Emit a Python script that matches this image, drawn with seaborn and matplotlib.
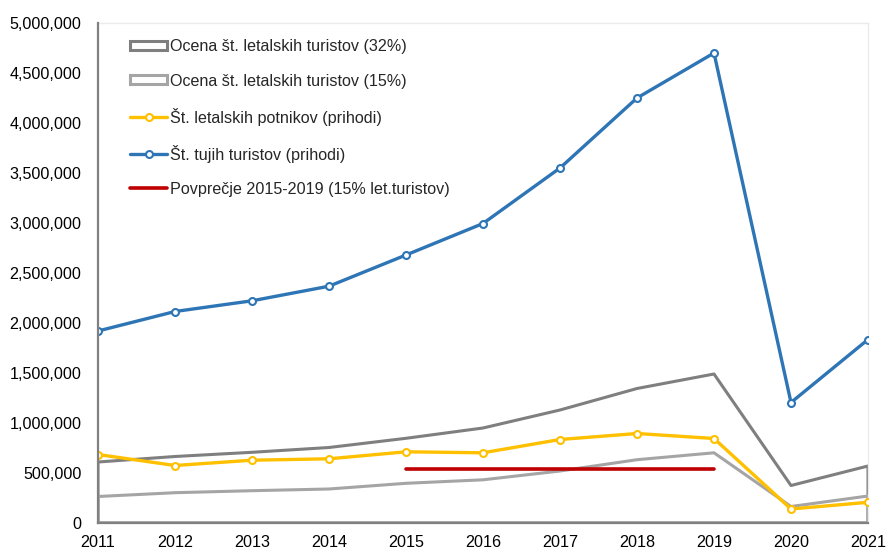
import matplotlib
matplotlib.use("Agg")
import matplotlib.pyplot as plt
from matplotlib.patches import Patch
from matplotlib.lines import Line2D
from matplotlib.ticker import FuncFormatter, MultipleLocator
import seaborn as sns
import pandas as pd

# Yearly data
years = [2011, 2012, 2013, 2014, 2015, 2016, 2017, 2018, 2019, 2020, 2021]
tuji_turisti = [1920000, 2115000, 2222000, 2368000, 2680000, 2995000, 3550000,
                4250000, 4700000, 1205000, 1835000]
letalski_32 = [610000, 665000, 707000, 755000, 847000, 950000, 1130000,
               1345000, 1490000, 375000, 570000]
letalski_15 = [265000, 303000, 323000, 340000, 397000, 432000, 520000,
               633000, 702000, 165000, 270000]
letalski_potniki = [685000, 575000, 628000, 642000, 712000, 702000, 835000,
                    895000, 845000, 140000, 207000]
povprecje_years = [2015, 2019]
povprecje_val = [540000, 540000]

labels = [
    "Ocena št. letalskih turistov (32%)",
    "Ocena št. letalskih turistov (15%)",
    "Št. letalskih potnikov (prihodi)",
    "Št. tujih turistov (prihodi)",
    "Povprečje 2015-2019 (15% let.turistov)",
]

c_dark = "#7F7F7F"
c_light = "#A5A5A5"
c_yellow = "#FFC000"
c_blue = "#2E75B6"
c_red = "#C00000"

sns.set_style("white")
plt.rcParams["font.family"] = ["Liberation Sans", "DejaVu Sans"]
plt.rcParams["font.size"] = 11.6

df = pd.DataFrame({
    "year": years,
    "tuji": tuji_turisti,
    "l32": letalski_32,
    "l15": letalski_15,
    "potniki": letalski_potniki,
})
df_avg = pd.DataFrame({"year": povprecje_years, "val": povprecje_val})

fig = plt.figure(figsize=(8.87, 5.5), dpi=100)
ax = fig.add_axes([98 / 887, 27 / 550, 770 / 887, 500 / 550])

# Estimated air tourists drawn as unfilled area outlines
ax.fill_between(df["year"], df["l32"], 0, facecolor="none",
                edgecolor=c_dark, linewidth=2.2, zorder=2)
ax.fill_between(df["year"], df["l15"], 0, facecolor="none",
                edgecolor=c_light, linewidth=2.2, zorder=2)

marker_kw = dict(marker="o", markersize=5, markerfacecolor="white",
                 markeredgewidth=1.5)
sns.lineplot(data=df, x="year", y="potniki", ax=ax, color=c_yellow,
             linewidth=2.4, markeredgecolor=c_yellow, zorder=3, **marker_kw)
sns.lineplot(data=df, x="year", y="tuji", ax=ax, color=c_blue,
             linewidth=2.4, markeredgecolor=c_blue, zorder=3, **marker_kw)
sns.lineplot(data=df_avg, x="year", y="val", ax=ax, color=c_red,
             linewidth=2.6, zorder=4)

ax.set_xlim(2011, 2021)
ax.set_ylim(0, 5000000)
ax.set_xticks(years)
ax.yaxis.set_major_locator(MultipleLocator(500000))
ax.yaxis.set_major_formatter(FuncFormatter(lambda v, p: f"{int(v):,}"))
ax.set_xlabel("")
ax.set_ylabel("")
ax.tick_params(axis="both", length=0, colors="black", labelsize=11.6)
ax.tick_params(axis="y", pad=12)
ax.tick_params(axis="x", pad=8.5)

for side in ["left", "bottom"]:
    ax.spines[side].set_color("#808080")
    ax.spines[side].set_linewidth(1.6)
    ax.spines[side].set_zorder(5)
for side in ["top", "right"]:
    ax.spines[side].set_visible(True)
    ax.spines[side].set_color("#EBEBEB")
    ax.spines[side].set_linewidth(1.0)

handles = [
    Patch(facecolor="none", edgecolor=c_dark, linewidth=2.2),
    Patch(facecolor="none", edgecolor=c_light, linewidth=2.2),
    Line2D([0], [0], color=c_yellow, linewidth=2.4, marker="o", markersize=5,
           markerfacecolor="white", markeredgecolor=c_yellow, markeredgewidth=1.5),
    Line2D([0], [0], color=c_blue, linewidth=2.4, marker="o", markersize=5,
           markerfacecolor="white", markeredgecolor=c_blue, markeredgewidth=1.5),
    Line2D([0], [0], color=c_red, linewidth=2.6),
]
ax.legend(handles, labels, loc="upper left", bbox_to_anchor=(0.042, 0.967),
          frameon=False, borderpad=0, borderaxespad=0, handlelength=2.3,
          handleheight=0.5, handletextpad=0.15, labelspacing=1.18,
          fontsize=11.6)

fig.savefig("out.png", dpi=100)
